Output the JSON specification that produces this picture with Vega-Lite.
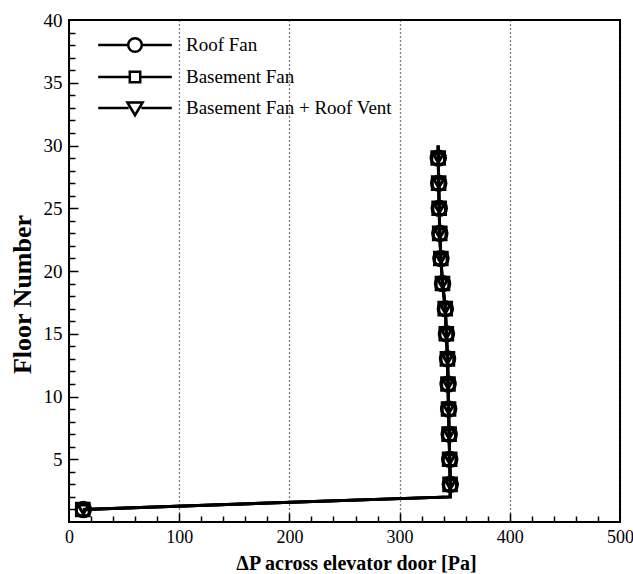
{
  "$schema": "https://vega.github.io/schema/vega-lite/v6.json",
  "width": 551,
  "height": 502,
  "autosize": {"type": "none"},
  "padding": {"left": 69, "top": 20, "right": 13, "bottom": 52},
  "background": "white",
  "config": {
    "view": {"stroke": "black", "strokeWidth": 2},
    "font": "Liberation Serif",
    "axis": {
      "domain": false,
      "labelFont": "Liberation Serif",
      "titleFont": "Liberation Serif",
      "labelFontSize": 18,
      "labelColor": "black",
      "titleColor": "black",
      "titleFontWeight": "bold",
      "tickColor": "black",
      "tickWidth": 1.5
    }
  },
  "data": {
    "values": [
      {"series": "Roof Fan", "floor": 1, "dp": 13},
      {"series": "Roof Fan", "floor": 2, "dp": 346},
      {"series": "Roof Fan", "floor": 3, "dp": 346},
      {"series": "Roof Fan", "floor": 4, "dp": 345.8},
      {"series": "Roof Fan", "floor": 5, "dp": 345.5},
      {"series": "Roof Fan", "floor": 6, "dp": 345.2},
      {"series": "Roof Fan", "floor": 7, "dp": 345},
      {"series": "Roof Fan", "floor": 8, "dp": 344.7},
      {"series": "Roof Fan", "floor": 9, "dp": 344.5},
      {"series": "Roof Fan", "floor": 10, "dp": 344.2},
      {"series": "Roof Fan", "floor": 11, "dp": 344},
      {"series": "Roof Fan", "floor": 12, "dp": 343.8},
      {"series": "Roof Fan", "floor": 13, "dp": 343.5},
      {"series": "Roof Fan", "floor": 14, "dp": 343},
      {"series": "Roof Fan", "floor": 15, "dp": 342.5},
      {"series": "Roof Fan", "floor": 16, "dp": 342},
      {"series": "Roof Fan", "floor": 17, "dp": 341.5},
      {"series": "Roof Fan", "floor": 18, "dp": 340.3},
      {"series": "Roof Fan", "floor": 19, "dp": 339},
      {"series": "Roof Fan", "floor": 20, "dp": 338.2},
      {"series": "Roof Fan", "floor": 21, "dp": 337.5},
      {"series": "Roof Fan", "floor": 22, "dp": 337},
      {"series": "Roof Fan", "floor": 23, "dp": 336.5},
      {"series": "Roof Fan", "floor": 24, "dp": 336.2},
      {"series": "Roof Fan", "floor": 25, "dp": 336},
      {"series": "Roof Fan", "floor": 26, "dp": 335.7},
      {"series": "Roof Fan", "floor": 27, "dp": 335.5},
      {"series": "Roof Fan", "floor": 28, "dp": 335.3},
      {"series": "Roof Fan", "floor": 29, "dp": 335.1},
      {"series": "Roof Fan", "floor": 30, "dp": 335},
      {"series": "Basement Fan", "floor": 1, "dp": 12.5},
      {"series": "Basement Fan", "floor": 2, "dp": 345.8},
      {"series": "Basement Fan", "floor": 3, "dp": 345.8},
      {"series": "Basement Fan", "floor": 4, "dp": 345.6},
      {"series": "Basement Fan", "floor": 5, "dp": 345.4},
      {"series": "Basement Fan", "floor": 6, "dp": 345.1},
      {"series": "Basement Fan", "floor": 7, "dp": 344.9},
      {"series": "Basement Fan", "floor": 8, "dp": 344.6},
      {"series": "Basement Fan", "floor": 9, "dp": 344.4},
      {"series": "Basement Fan", "floor": 10, "dp": 344.1},
      {"series": "Basement Fan", "floor": 11, "dp": 343.9},
      {"series": "Basement Fan", "floor": 12, "dp": 343.7},
      {"series": "Basement Fan", "floor": 13, "dp": 343.4},
      {"series": "Basement Fan", "floor": 14, "dp": 342.9},
      {"series": "Basement Fan", "floor": 15, "dp": 342.4},
      {"series": "Basement Fan", "floor": 16, "dp": 341.9},
      {"series": "Basement Fan", "floor": 17, "dp": 341.4},
      {"series": "Basement Fan", "floor": 18, "dp": 340.2},
      {"series": "Basement Fan", "floor": 19, "dp": 338.9},
      {"series": "Basement Fan", "floor": 20, "dp": 338.1},
      {"series": "Basement Fan", "floor": 21, "dp": 337.4},
      {"series": "Basement Fan", "floor": 22, "dp": 336.9},
      {"series": "Basement Fan", "floor": 23, "dp": 336.4},
      {"series": "Basement Fan", "floor": 24, "dp": 336.1},
      {"series": "Basement Fan", "floor": 25, "dp": 335.9},
      {"series": "Basement Fan", "floor": 26, "dp": 335.6},
      {"series": "Basement Fan", "floor": 27, "dp": 335.4},
      {"series": "Basement Fan", "floor": 28, "dp": 335.2},
      {"series": "Basement Fan", "floor": 29, "dp": 335},
      {"series": "Basement Fan", "floor": 30, "dp": 334.9},
      {"series": "Basement Fan + Roof Vent", "floor": 1, "dp": 13},
      {"series": "Basement Fan + Roof Vent", "floor": 2, "dp": 346},
      {"series": "Basement Fan + Roof Vent", "floor": 3, "dp": 346},
      {"series": "Basement Fan + Roof Vent", "floor": 4, "dp": 345.8},
      {"series": "Basement Fan + Roof Vent", "floor": 5, "dp": 345.5},
      {"series": "Basement Fan + Roof Vent", "floor": 6, "dp": 345.2},
      {"series": "Basement Fan + Roof Vent", "floor": 7, "dp": 345},
      {"series": "Basement Fan + Roof Vent", "floor": 8, "dp": 344.7},
      {"series": "Basement Fan + Roof Vent", "floor": 9, "dp": 344.5},
      {"series": "Basement Fan + Roof Vent", "floor": 10, "dp": 344.2},
      {"series": "Basement Fan + Roof Vent", "floor": 11, "dp": 344},
      {"series": "Basement Fan + Roof Vent", "floor": 12, "dp": 343.8},
      {"series": "Basement Fan + Roof Vent", "floor": 13, "dp": 343.5},
      {"series": "Basement Fan + Roof Vent", "floor": 14, "dp": 343},
      {"series": "Basement Fan + Roof Vent", "floor": 15, "dp": 342.5},
      {"series": "Basement Fan + Roof Vent", "floor": 16, "dp": 342},
      {"series": "Basement Fan + Roof Vent", "floor": 17, "dp": 341.5},
      {"series": "Basement Fan + Roof Vent", "floor": 18, "dp": 340.3},
      {"series": "Basement Fan + Roof Vent", "floor": 19, "dp": 339},
      {"series": "Basement Fan + Roof Vent", "floor": 20, "dp": 338.2},
      {"series": "Basement Fan + Roof Vent", "floor": 21, "dp": 337.5},
      {"series": "Basement Fan + Roof Vent", "floor": 22, "dp": 337},
      {"series": "Basement Fan + Roof Vent", "floor": 23, "dp": 336.5},
      {"series": "Basement Fan + Roof Vent", "floor": 24, "dp": 336.2},
      {"series": "Basement Fan + Roof Vent", "floor": 25, "dp": 336},
      {"series": "Basement Fan + Roof Vent", "floor": 26, "dp": 335.7},
      {"series": "Basement Fan + Roof Vent", "floor": 27, "dp": 335.5},
      {"series": "Basement Fan + Roof Vent", "floor": 28, "dp": 335.3},
      {"series": "Basement Fan + Roof Vent", "floor": 29, "dp": 335.1},
      {"series": "Basement Fan + Roof Vent", "floor": 30, "dp": 335}
    ]
  },
  "layer": [
    {
      "mark": {"type": "line", "color": "black", "strokeWidth": 3},
      "encoding": {
        "x": {
          "field": "dp", "type": "quantitative",
          "scale": {"domain": [0, 500], "nice": false, "zero": false},
          "axis": {
            "orient": "bottom",
            "title": "ΔP across elevator door [Pa]",
            "titleFontSize": 20,
            "titleX": 287,
            "titleY": 41,
            "titleBaseline": "middle",
            "titleAlign": "center",
            "values": [0, 100, 200, 300, 400, 500],
            "ticks": false,
            "labelPadding": 6,
            "labelFlush": false,
            "grid": true,
            "gridColor": "black",
            "gridDash": [1, 3],
            "gridWidth": 1.3
          }
        },
        "y": {
          "field": "floor", "type": "quantitative",
          "scale": {"domain": [0, 40], "nice": false, "zero": false},
          "axis": {
            "orient": "left",
            "title": "Floor Number",
            "titleFontSize": 26,
            "titleX": -47,
            "titleY": 274,
            "titleAngle": 270,
            "titleBaseline": "middle",
            "titleAlign": "center",
            "values": [5, 10, 15, 20, 25, 30, 35, 40],
            "labelFontSize": 19,
            "ticks": false,
            "labelPadding": 7,
            "labelFlush": false,
            "grid": false
          }
        },
        "detail": {"field": "series"},
        "order": {"field": "floor"}
      }
    },
    {
      "transform": [{"filter": "datum.floor % 2 == 1"}],
      "mark": {"type": "point", "filled": false, "stroke": "black", "strokeWidth": 3, "opacity": 1},
      "encoding": {
        "x": {
          "field": "dp", "type": "quantitative",
          "axis": {
            "orient": "bottom", "title": null, "labels": false, "grid": false,
            "tickSize": 9, "offset": -9,
            "values": [100, 200, 300, 400]
          }
        },
        "y": {
          "field": "floor", "type": "quantitative",
          "axis": {
            "orient": "left", "title": null, "labels": false, "grid": false,
            "tickSize": 9, "offset": -9,
            "values": [5, 10, 15, 20, 25, 30, 35]
          }
        },
        "shape": {
          "field": "series", "type": "nominal",
          "scale": {"domain": ["Roof Fan", "Basement Fan", "Basement Fan + Roof Vent"], "range": ["circle", "square", "triangle-down"]},
          "legend": null
        },
        "size": {
          "field": "series", "type": "nominal",
          "scale": {"domain": ["Roof Fan", "Basement Fan", "Basement Fan + Roof Vent"], "range": [210, 110, 130]},
          "legend": null
        }
      }
    },
    {
      "transform": [{"filter": "false"}],
      "mark": {"type": "point", "filled": false, "stroke": "black", "strokeWidth": 2.5, "opacity": 1},
      "encoding": {
        "x": {
          "field": "dp", "type": "quantitative",
          "axis": {
            "orient": "bottom", "title": null, "labels": false, "grid": false,
            "tickSize": 6, "offset": -6,
            "values": [20, 40, 60, 80, 120, 140, 160, 180, 220, 240, 260, 280, 320, 340, 360, 380, 420, 440, 460, 480]
          }
        },
        "y": {
          "field": "floor", "type": "quantitative",
          "axis": {
            "orient": "left", "title": null, "labels": false, "grid": false,
            "tickSize": 6, "offset": -6,
            "values": [1, 2, 3, 4, 6, 7, 8, 9, 11, 12, 13, 14, 16, 17, 18, 19, 21, 22, 23, 24, 26, 27, 28, 29, 31, 32, 33, 34, 36, 37, 38, 39]
          }
        },
        "shape": {
          "field": "series", "type": "nominal",
          "scale": {
            "domain": ["Roof Fan", "Basement Fan", "Basement Fan + Roof Vent"],
            "range": [
              "M-4.6,0H-0.85M0.85,0H4.6M-0.85,0A0.85,0.85 0 1,0 0.85,0A0.85,0.85 0 1,0 -0.85,0Z",
              "M-4.6,0H-0.65M0.65,0H4.6M-0.65,-0.65H0.65V0.65H-0.65Z",
              "M-4.6,0H-0.8M0.8,0H4.6M-0.95,-0.7H0.95L0,0.9Z"
            ]
          },
          "legend": {
            "orient": "none",
            "legendX": 56.5,
            "legendY": 15.5,
            "title": null,
            "symbolSize": 256,
            "symbolStrokeWidth": 2.5,
            "symbolStrokeColor": "black",
            "symbolFillColor": "white",
            "symbolOpacity": 1,
            "labelFont": "Liberation Serif",
            "labelFontSize": 19,
            "labelColor": "black",
            "labelOffset": 41.5,
            "labelLimit": 400,
            "rowPadding": 9,
            "padding": 0,
            "encode": {
              "symbols": {
                "update": {
                  "stroke": {"value": "black"},
                  "fill": {"value": "white"},
                  "strokeWidth": {"value": 2.8},
                  "opacity": {"value": 1}
                }
              }
            }
          }
        }
      }
    }
  ],
  "resolve": {
    "scale": {"shape": "independent"},
    "axis": {"x": "independent", "y": "independent"}
  }
}
